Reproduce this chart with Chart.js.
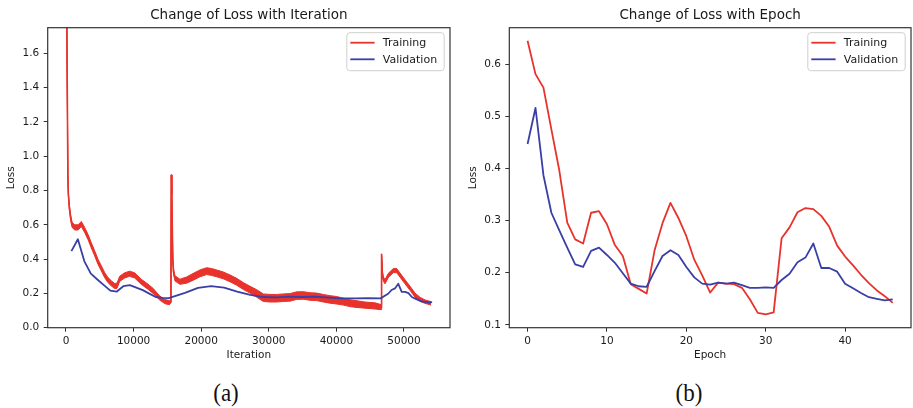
<!DOCTYPE html>
<html>
<head>
<meta charset="utf-8">
<script src="https://cdn.jsdelivr.net/npm/chart.js@4.4.1/dist/chart.umd.min.js"></script>
<style>
  html, body { margin: 0; padding: 0; background: #ffffff; }
  #figure { position: relative; width: 913px; height: 408px; overflow: hidden; background: #ffffff; }
  #figure canvas { position: absolute; top: 0; }
  #lossIter { left: 0; }
  #lossEpoch { left: 460px; }
  .caption {
    position: absolute; top: 379px;
    font-family: "Liberation Serif", "DejaVu Serif", serif;
    font-size: 25px; line-height: 28px; color: #111;
    transform: translateX(-50%) scaleX(0.92);
    white-space: nowrap;
  }
</style>
</head>
<body>
<div id="figure">
  <canvas id="lossIter" width="460" height="370"></canvas>
  <canvas id="lossEpoch" width="453" height="370"></canvas>
  <div class="caption" style="left:226px">(a)</div>
  <div class="caption" style="left:689px">(b)</div>
</div>
<script>
// ---------- per-epoch losses ----------
const EPOCHS = [0,1,2,3,4,5,6,7,8,9,10,11,12,13,14,15,16,17,18,19,20,21,22,23,
                24,25,26,27,28,29,30,31,32,33,34,35,36,37,38,39,40,41,42,43,44,45,46];
const EPOCH_TRAIN_LOSS = [0.645,0.581,0.555,0.475,0.396,0.296,0.264,0.256,0.315,0.318,
                          0.293,0.253,0.232,0.178,0.169,0.160,0.243,0.295,0.334,0.305,
                          0.270,0.225,0.195,0.162,0.181,0.179,0.178,0.171,0.149,0.123,
                          0.120,0.124,0.266,0.287,0.316,0.324,0.322,0.309,0.288,0.252,
                          0.231,0.214,0.196,0.180,0.166,0.155,0.142];
const EPOCH_VAL_LOSS = [0.447,0.516,0.387,0.315,0.281,0.248,0.216,0.211,0.242,0.248,
                        0.234,0.219,0.199,0.179,0.174,0.173,0.203,0.232,0.243,0.234,
                        0.211,0.191,0.179,0.177,0.181,0.179,0.181,0.176,0.171,0.171,
                        0.172,0.171,0.186,0.198,0.220,0.229,0.256,0.209,0.209,0.202,
                        0.179,0.170,0.161,0.153,0.150,0.147,0.149];

// iteration at which each epoch's validation loss was logged
const VAL_ITERATION = [800,1760,2720,3680,4640,5600,6560,7520,8480,9440,10400,11360,12320,13280,14240,15200,
                       17600,19530,21460,23390,25320,27250,29180,31110,33040,34970,36900,38830,40760,42690,44620,46550,
                       47160,47660,48160,48660,49160,49660,50160,50660,51160,51660,52160,52660,53160,53660,54160];

// ---------- per-iteration training loss (trend and half-width of its noise band) ----------
const ITER_TRAIN_ITERATION = [0,280,350,500,700,900,1300,1800,2270,2760,3250,3750,4240,4730,5230,5720,6210,6700,
  7200,7550,7940,8680,9420,10160,11140,12130,12870,13900,14650,15290,15520,15580,15650,15800,15900,16120,
  16860,17850,18830,19820,20810,21550,22290,23270,24260,25250,26230,27220,28210,29190,30180,31170,32150,
  33140,34120,35110,36090,37080,38070,39050,40040,41030,42010,42750,44230,45710,46600,46680,46800,46940,
  47190,47680,48420,48920,49410,50150,50890,51630,52370,53110,54000];
const ITER_TRAIN_LOSS = [2.5,0.88,0.78,0.70,0.64,0.60,0.585,0.585,0.605,0.57,0.53,0.48,0.434,0.385,0.346,0.307,0.278,0.259,
  0.243,0.245,0.285,0.305,0.315,0.305,0.268,0.239,0.215,0.172,0.152,0.146,0.15,0.89,0.78,0.40,0.33,0.288,
  0.268,0.278,0.297,0.317,0.33,0.325,0.317,0.305,0.288,0.268,0.243,0.222,0.2,0.175,0.172,0.172,0.175,
  0.177,0.187,0.188,0.182,0.18,0.172,0.165,0.16,0.152,0.143,0.139,0.132,0.127,0.12,0.428,0.32,0.285,
  0.268,0.305,0.333,0.333,0.307,0.268,0.23,0.19,0.165,0.152,0.142];
const ITER_TRAIN_SPREAD = [0,0.005,0.01,0.015,0.015,0.015,0.015,0.015,0.015,0.015,0.015,0.015,0.015,0.015,0.015,0.015,0.015,0.015,
  0.015,0.015,0.015,0.015,0.015,0.015,0.015,0.015,0.015,0.012,0.012,0.012,0.005,0,0.005,0.01,0.015,0.015,
  0.015,0.018,0.02,0.02,0.02,0.02,0.02,0.02,0.02,0.02,0.02,0.02,0.022,0.022,0.022,0.022,0.022,
  0.022,0.022,0.022,0.022,0.022,0.022,0.022,0.022,0.02,0.02,0.02,0.018,0.018,0.015,0,0.008,0.012,
  0.012,0.012,0.012,0.012,0.012,0.012,0.012,0.012,0.012,0.01,0.01];

// ---------- ticks ----------
const ITER_TICKS = [0,10000,20000,30000,40000,50000];
const ITER_LOSS_TICKS = [0.0,0.2,0.4,0.6,0.8,1.0,1.2,1.4,1.6];
const EPOCH_TICKS = [0,10,20,30,40];
const EPOCH_LOSS_TICKS = [0.1,0.2,0.3,0.4,0.5,0.6];

const RED = '#e8332c';
const BLUE = '#3a3fa6';
const FONT = '"DejaVu Sans", sans-serif';
const TEXT = '#1a1a1a';
const AXIS = '#333333';

Chart.defaults.font.family = FONT;
Chart.defaults.color = TEXT;

// outline of the plotting area on all four sides
const frame = {
  id: 'frame',
  afterDatasetsDraw(chart) {
    const { ctx, chartArea: a } = chart;
    ctx.save();
    ctx.strokeStyle = AXIS;
    ctx.lineWidth = 1.2;
    ctx.strokeRect(a.left, a.top, a.right - a.left, a.bottom - a.top);
    ctx.restore();
  }
};

// boxed legend in the upper-right corner of the plotting area
const boxLegend = {
  id: 'boxLegend',
  afterDraw(chart) {
    const { ctx, chartArea: a } = chart;
    const items = chart.data.datasets
      .filter(d => d.legendRank !== undefined)
      .sort((p, q) => p.legendRank - q.legendRank);
    const w = 97.4, h = 38, x0 = a.right - 5.8 - w, y0 = a.top + 5;
    ctx.save();
    ctx.beginPath();
    ctx.roundRect(x0, y0, w, h, 3);
    ctx.fillStyle = 'rgba(255,255,255,0.85)';
    ctx.fill();
    ctx.strokeStyle = '#cfcfcf';
    ctx.lineWidth = 1;
    ctx.stroke();
    ctx.font = '11px ' + FONT;
    ctx.textBaseline = 'middle';
    ctx.textAlign = 'left';
    items.forEach((d, i) => {
      const cy = y0 + 10 + i * 16.6;
      ctx.beginPath();
      ctx.moveTo(x0 + 3.5, cy);
      ctx.lineTo(x0 + 27.8, cy);
      ctx.strokeStyle = d.borderColor;
      ctx.lineWidth = 1.8;
      ctx.stroke();
      ctx.fillStyle = TEXT;
      ctx.fillText(d.label, x0 + 36, cy + 0.5);
    });
    ctx.restore();
  }
};

function axisOptions(cfg) {
  return {
    responsive: false,
    animation: false,
    devicePixelRatio: 1,
    layout: { padding: { left: 0, right: cfg.padRight, top: 0, bottom: 0 } },
    elements: { point: { radius: 0 }, line: { tension: 0, borderJoinStyle: 'round' } },
    plugins: {
      legend: { display: false },
      tooltip: { enabled: false },
      title: {
        display: true, text: cfg.title, fullSize: false, color: TEXT,
        font: { family: FONT, size: 13.5, weight: 'normal' },
        padding: { top: 7, bottom: 4.5 }
      }
    },
    scales: {
      x: {
        type: 'linear', min: cfg.xMin, max: cfg.xMax,
        afterFit: s => { s.height = 42.3; },
        afterBuildTicks: s => { s.ticks = cfg.xTicks.map(v => ({ value: v })); },
        ticks: { callback: v => String(v), font: { size: 10.5 }, color: TEXT, padding: 3.5, maxRotation: 0, autoSkip: false },
        grid: { display: true, drawOnChartArea: false, drawTicks: true, tickLength: 4, color: AXIS, tickWidth: 1 },
        border: { display: false },
        title: { display: true, text: cfg.xTitle, color: TEXT, font: { size: 10.5 }, padding: { top: 0, bottom: 8.7 } }
      },
      y: {
        type: 'linear', min: cfg.yMin, max: cfg.yMax,
        afterFit: s => { s.width = cfg.yWidth; },
        afterBuildTicks: s => { s.ticks = cfg.yTicks.map(v => ({ value: v })); },
        ticks: { callback: v => Number(v).toFixed(1), font: { size: 10.5 }, color: TEXT, padding: 4.4, autoSkip: false },
        grid: { display: true, drawOnChartArea: false, drawTicks: true, tickLength: 4, color: AXIS, tickWidth: 1 },
        border: { display: false },
        title: { display: true, text: 'Loss', color: TEXT, font: { size: 10.5 }, padding: { top: cfg.yTitlePad, bottom: 0 } }
      }
    }
  };
}

// (a) loss against iteration
const trainPoints = ITER_TRAIN_ITERATION.map((x, i) => ({ x, y: ITER_TRAIN_LOSS[i] }));
const trainLow = ITER_TRAIN_ITERATION.map((x, i) => ({ x, y: ITER_TRAIN_LOSS[i] - ITER_TRAIN_SPREAD[i] }));
const trainHigh = ITER_TRAIN_ITERATION.map((x, i) => ({ x, y: ITER_TRAIN_LOSS[i] + ITER_TRAIN_SPREAD[i] }));
const valPoints = VAL_ITERATION.map((x, i) => ({ x, y: EPOCH_VAL_LOSS[i] }));

new Chart(document.getElementById('lossIter'), {
  type: 'line',
  data: {
    datasets: [
      { label: 'Validation', legendRank: 1, data: valPoints, borderColor: BLUE, borderWidth: 1.8, fill: false, order: 0 },
      { label: 'Training', legendRank: 0, data: trainPoints, borderColor: RED, borderWidth: 1.6, fill: false, order: 1 },
      { label: 'Training band low', data: trainLow, borderColor: RED, borderWidth: 1, fill: false, order: 2 },
      { label: 'Training band high', data: trainHigh, borderColor: RED, borderWidth: 1, backgroundColor: RED, fill: '-1', order: 3 }
    ]
  },
  options: axisOptions({
    title: 'Change of Loss with Iteration', xTitle: 'Iteration',
    xMin: -2705, xMax: 56805, xTicks: ITER_TICKS,
    yMin: 0, yMax: 1.75, yTicks: ITER_LOSS_TICKS,
    yWidth: 47.7, padRight: 10, yTitlePad: 4.5
  }),
  plugins: [frame, boxLegend]
});

// (b) loss against epoch
new Chart(document.getElementById('lossEpoch'), {
  type: 'line',
  data: {
    datasets: [
      { label: 'Training', legendRank: 0, data: EPOCHS.map((x, i) => ({ x, y: EPOCH_TRAIN_LOSS[i] })), borderColor: RED, borderWidth: 1.8, fill: false, order: 1 },
      { label: 'Validation', legendRank: 1, data: EPOCHS.map((x, i) => ({ x, y: EPOCH_VAL_LOSS[i] })), borderColor: BLUE, borderWidth: 1.8, fill: false, order: 0 }
    ]
  },
  options: axisOptions({
    title: 'Change of Loss with Epoch', xTitle: 'Epoch',
    xMin: -2.3, xMax: 48.3, xTicks: EPOCH_TICKS,
    yMin: 0.0945, yMax: 0.670, yTicks: EPOCH_LOSS_TICKS,
    yWidth: 49.3, padRight: 2, yTitlePad: 7
  }),
  plugins: [frame, boxLegend]
});
</script>
</body>
</html>
